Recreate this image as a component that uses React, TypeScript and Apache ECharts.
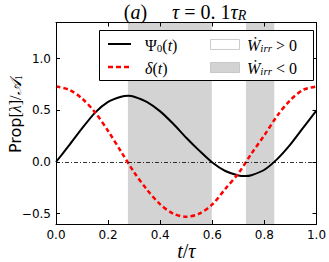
import React, { useEffect, useRef } from "react";
import * as echarts from "echarts";

// ---- data ----
const tPsi = [0, 0.05, 0.1, 0.15, 0.2, 0.25, 0.278, 0.3, 0.35, 0.4, 0.45, 0.5, 0.55, 0.6, 0.65, 0.7, 0.728, 0.75, 0.8, 0.85, 0.9, 0.95, 1.0];
const psi0 = [0, 0.16, 0.325, 0.478, 0.582, 0.632, 0.64, 0.632, 0.58, 0.49, 0.37, 0.235, 0.11, -0.005, -0.087, -0.13, -0.136, -0.128, -0.075, 0.03, 0.17, 0.335, 0.5];
const tDelta = [0, 0.05, 0.1, 0.15, 0.2, 0.25, 0.3, 0.35, 0.4, 0.45, 0.5, 0.55, 0.6, 0.65, 0.7, 0.75, 0.8, 0.85, 0.9, 0.95, 1.0];
const delta = [0.73, 0.7, 0.615, 0.48, 0.3, 0.1, -0.1, -0.27, -0.41, -0.5, -0.53, -0.5, -0.41, -0.26, -0.11, 0.08, 0.26, 0.45, 0.6, 0.7, 0.73];
const negativeWorkIntervals: [number, number][] = [[0.276, 0.598], [0.729, 0.838]];
const xTicks = [0, 0.2, 0.4, 0.6, 0.8, 1.0];
const yTicks = [-0.5, 0, 0.5, 1.0];

const SERIF = "'Liberation Serif', 'DejaVu Serif', serif";
const SANS = "'DejaVu Sans', sans-serif";

function fmt(v: number) {
  const s = Math.abs(v).toFixed(1);
  return v < -1e-9 ? "\u2212" + s : s;
}

function mathRich(size: number) {
  const lh = size + 3;
  const sub = Math.round(size * 0.68);
  return {
    n: { fontFamily: SERIF, fontSize: size, lineHeight: lh, verticalAlign: "bottom", color: "#000" },
    i: { fontFamily: SERIF, fontSize: size, fontStyle: "italic", lineHeight: lh, verticalAlign: "bottom", color: "#000" },
    s: { fontFamily: SERIF, fontSize: sub, lineHeight: sub, verticalAlign: "bottom", color: "#000" },
    si: { fontFamily: SERIF, fontSize: sub, fontStyle: "italic", lineHeight: sub, verticalAlign: "bottom", color: "#000" },
    p: { fontFamily: SANS, fontSize: size, lineHeight: lh, verticalAlign: "bottom", color: "#000" },
  };
}

export default function App() {
  const ref = useRef<HTMLDivElement>(null);
  useEffect(() => {
    if (!ref.current) return;
    const chart = echarts.init(ref.current, undefined, { renderer: "svg" });
    const gridBox = { left: 56, right: 12.5, top: 22.5, bottom: 38 };
    const axisCommon = {
      type: "value" as const,
      axisLine: { show: true, onZero: false, lineStyle: { color: "#000", width: 1 } },
      splitLine: { show: false },
      z: 6,
    };
    const xTickCfg = { show: true, inside: true, length: 4, customValues: xTicks, lineStyle: { color: "#000", width: 1 } };
    const yTickCfg = { show: true, inside: true, length: 4, customValues: yTicks, lineStyle: { color: "#000", width: 1 } };
    chart.setOption({
      animation: false,
      textStyle: { fontFamily: SANS },
      grid: { ...gridBox, containLabel: false, outerBoundsMode: "none" },
      xAxis: [
        {
          ...axisCommon,
          position: "bottom",
          min: 0,
          max: 1,
          axisTick: xTickCfg,
          axisLabel: { show: true, customValues: xTicks, formatter: fmt, fontFamily: SANS, fontSize: 12, color: "#000", margin: 5 },
          name: "{i|t}{n|/}{i|τ}",
          nameLocation: "middle",
          nameGap: 14,
          nameMoveOverlap: false,
          nameTextStyle: { rich: mathRich(20) },
        },
        {
          ...axisCommon,
          position: "top",
          min: 0,
          max: 1,
          axisTick: xTickCfg,
          axisLabel: { show: false },
        },
      ],
      yAxis: [
        {
          ...axisCommon,
          position: "left",
          min: -0.6,
          max: 1.35,
          axisTick: yTickCfg,
          axisLabel: { show: true, customValues: yTicks, formatter: fmt, fontFamily: SANS, fontSize: 12, color: "#000", margin: 5 },
        },
        {
          ...axisCommon,
          position: "right",
          min: -0.6,
          max: 1.35,
          axisTick: yTickCfg,
          axisLabel: { show: false },
        },
      ],
      graphic: [
        {
          type: "text",
          x: 14,
          y: 114,
          rotation: Math.PI / 2,
          z: 50,
          style: {
            text: "{p|Prop}{n|[}{i|λ̇}{n|]/}{i|𝒜}{s|1}",
            align: "center",
            verticalAlign: "middle",
            rich: mathRich(16),
          },
        },
        {
          type: "text",
          x: 185,
          y: 22,
          z: 50,
          style: {
            text: "{n|(}{i|a}{n|)}{n|     }{i|τ}{n| = 0. 1}{i|τ}{si|R}",
            align: "center",
            verticalAlign: "bottom",
            rich: mathRich(20),
          },
        },
        {
          type: "rect",
          z: 100,
          shape: { x: 99.5, y: 30.5, width: 214, height: 50 },
          style: { fill: "#fff", stroke: "#000", lineWidth: 1 },
        },
        {
          type: "line",
          z: 101,
          shape: { x1: 108, y1: 44, x2: 131, y2: 44 },
          style: { stroke: "#000", lineWidth: 2 },
        },
        {
          type: "line",
          z: 101,
          shape: { x1: 108, y1: 67, x2: 130, y2: 67 },
          style: { stroke: "#ff0000", lineWidth: 2.5, lineDash: [5, 3] },
        },
        {
          type: "text",
          z: 101,
          x: 145,
          y: 44,
          style: { text: "{n|Ψ}{s|0}{n|(}{i|t}{n|)}", verticalAlign: "middle", rich: mathRich(16) },
        },
        {
          type: "text",
          z: 101,
          x: 145,
          y: 67,
          style: { text: "{i|δ}{n|(}{i|t}{n|)}", verticalAlign: "middle", rich: mathRich(16) },
        },
        {
          type: "rect",
          z: 101,
          shape: { x: 210.5, y: 39.5, width: 29, height: 10 },
          style: { fill: "#fff", stroke: "#cccccc", lineWidth: 1 },
        },
        {
          type: "rect",
          z: 101,
          shape: { x: 210.5, y: 62.5, width: 29, height: 10 },
          style: { fill: "#d3d3d3", stroke: "#c8c8c8", lineWidth: 1 },
        },
        {
          type: "text",
          z: 101,
          x: 247,
          y: 44,
          style: { text: "{i|Ẇ}{si|irr}{n| > 0}", verticalAlign: "middle", rich: mathRich(16) },
        },
        {
          type: "text",
          z: 101,
          x: 247,
          y: 67,
          style: { text: "{i|Ẇ}{si|irr}{n| < 0}", verticalAlign: "middle", rich: mathRich(16) },
        },
      ],
      series: [
        {
          type: "line",
          name: "regions",
          data: [],
          z: 1,
          silent: true,
          markArea: {
            silent: true,
            itemStyle: { color: "#d3d3d3", borderWidth: 0 },
            data: negativeWorkIntervals.map(([a, b]) => [{ xAxis: a }, { xAxis: b }]),
          },
          markLine: {
            silent: true,
            symbol: ["none", "none"],
            label: { show: false },
            lineStyle: { color: "#000", width: 0.8, type: [4, 2, 1, 2] },
            data: [{ yAxis: 0 }],
          },
        },
        {
          type: "line",
          name: "Ψ0(t)",
          data: tPsi.map((t, i) => [t, psi0[i]]),
          smooth: 0.25,
          showSymbol: false,
          z: 3,
          lineStyle: { color: "#000", width: 2 },
          itemStyle: { color: "#000" },
        },
        {
          type: "line",
          name: "δ(t)",
          data: tDelta.map((t, i) => [t, delta[i]]),
          smooth: 0.3,
          showSymbol: false,
          z: 4,
          lineStyle: { color: "#ff0000", width: 2.5, type: [4.5, 3] },
          itemStyle: { color: "#ff0000" },
        },
      ],
    });
    return () => chart.dispose();
  }, []);
  return (
    <div
      ref={ref}
      style={{ position: "fixed", left: 0, top: 0, width: 329, height: 262, background: "#fff" }}
    />
  );
}
